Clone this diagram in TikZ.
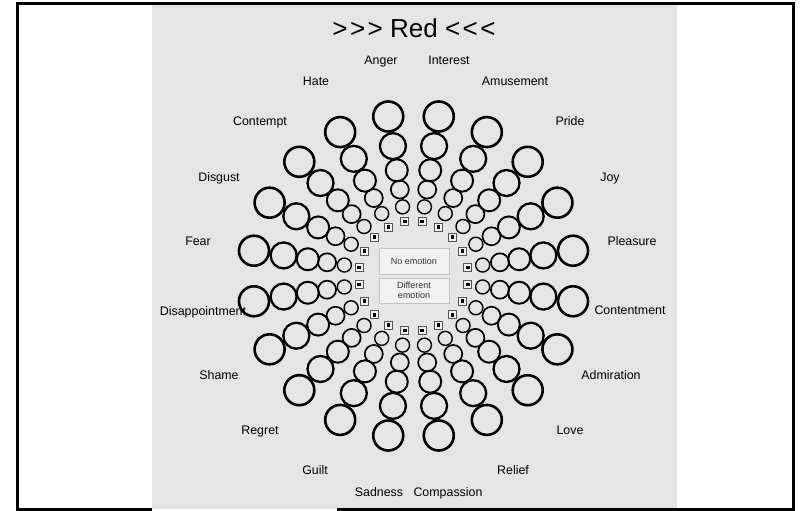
\documentclass[tikz,border=0pt]{standalone}
\usepackage{fontspec}
\setmainfont{Liberation Sans}
\usetikzlibrary{calc}
\definecolor{bggray}{HTML}{E5E5E5}
\definecolor{boxfill}{HTML}{F2F2F2}
\definecolor{boxline}{HTML}{C2C2C2}
\definecolor{boxtext}{HTML}{333333}
\definecolor{sqline}{HTML}{555555}
\begin{document}
\begin{tikzpicture}[x=1pt,y=-1pt,
  ring/.style={draw=black,circle,inner sep=0pt,minimum size=#1},
  lab/.style={font=\fontsize{12.4}{14}\selectfont,anchor=base,inner sep=0pt,yshift=-4.4pt},
  sqbox/.style={draw=sqline,fill=white!95!black,line width=0.9pt,inner sep=0pt,minimum size=8pt},
  sqdot/.style={fill=black,inner sep=0pt,minimum size=3.6pt},
  choice/.style={draw=boxline,fill=boxfill,line width=0.8pt,inner sep=0pt,minimum width=70pt,
    text=boxtext,font=\fontsize{9}{9.5}\selectfont,align=center},
  frameline/.style={line width=3pt,line join=miter}]
\useasboundingbox (0,0) rectangle (800,511);
\fill[bggray] (152,5) rectangle (677,508.5);
\draw[frameline] (152,509.5) -- (17.5,509.5) -- (17.5,3.7) -- (793,3.7) -- (793,509.5) -- (337,509.5);

\node[font=\fontsize{26}{30}\selectfont,inner sep=0pt,anchor=base] (title) at (414,37.5)
  {>\kern2.5pt>\kern2.5pt> Red <\kern2.5pt<\kern2.5pt<};

\coordinate (C) at (413.5,276);

\foreach \k in {0,...,19}{
  \pgfmathsetmacro\a{-(9+18*\k)}
  \node[sqbox] (s\k) at ($(C)+(\a:55)$) {};
  \node[sqdot] (d\k) at (s\k) {};
  \node[ring=14pt,line width=1.4pt] (c\k-1) at ($(C)+(\a:70)$) {};
  \node[ring=18pt,line width=1.7pt] (c\k-2) at ($(C)+(\a:87.5)$) {};
  \node[ring=22pt,line width=2.0pt] (c\k-3) at ($(C)+(\a:107)$) {};
  \node[ring=26pt,line width=2.3pt] (c\k-4) at ($(C)+(\a:131.5)$) {};
  \node[ring=30pt,line width=2.6pt] (c\k-5) at ($(C)+(\a:161.5)$) {};
}

\node[choice,minimum height=26pt] (none) at (414,261) {No emotion};
\node[choice,minimum height=25pt] (diff) at (414,290.5) {Different\\emotion};

\node[lab] (anger) at (381,60) {Anger};
\node[lab] (interest) at (449,60) {Interest};
\node[lab] (hate) at (316,81) {Hate};
\node[lab] (amusement) at (515,81) {Amusement};
\node[lab] (contempt) at (260,121) {Contempt};
\node[lab] (pride) at (570,121) {Pride};
\node[lab] (disgust) at (219,177) {Disgust};
\node[lab] (joy) at (610,177) {Joy};
\node[lab] (fear) at (198,241) {Fear};
\node[lab] (pleasure) at (632,241) {Pleasure};
\node[lab] (disappointment) at (203,311) {Disappointment};
\node[lab] (contentment) at (630,310) {Contentment};
\node[lab] (shame) at (219,375) {Shame};
\node[lab] (admiration) at (611,375) {Admiration};
\node[lab] (regret) at (260,430) {Regret};
\node[lab] (love) at (570,430) {Love};
\node[lab] (guilt) at (315,470) {Guilt};
\node[lab] (relief) at (513,470) {Relief};
\node[lab] (sadness) at (379,492) {Sadness};
\node[lab] (compassion) at (448,492) {Compassion};
\end{tikzpicture}
\end{document}
